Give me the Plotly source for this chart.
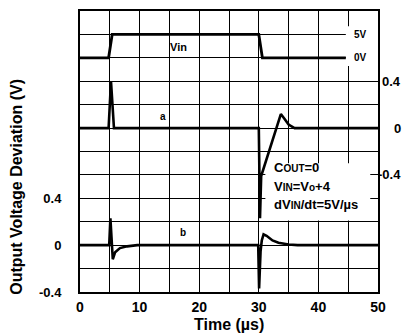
import plotly.graph_objects as go

# ---- data ----
t_vin = [0, 4.8, 5.4, 30.0, 30.6, 44.6]
v_vin = [0, 0, 5, 5, 0, 0]

t_a = [0, 4.8, 5.2, 5.7, 30.0, 30.2, 30.4, 33.7, 34.3, 35.0, 36.0, 50]
v_a = [0, 0, 0.40, 0, 0, -0.77, -0.41, 0.12, 0.08, 0.03, 0.0, 0]

t_b = [0, 4.9, 5.1, 5.3, 5.5, 5.9, 6.7, 7.9, 9.6, 29.9, 30.05, 30.3, 30.5, 30.8,
       31.3, 32.3, 33.3, 35.0, 36.5, 50]
v_b = [0, 0, 0.23, 0, -0.12, -0.06, -0.025, -0.01, 0, 0, -0.37, -0.05, 0.04, 0.093,
       0.08, 0.04, 0.02, 0.005, 0, 0]

x_ticks = [0, 10, 20, 30, 40, 50]
x_ticktext = ["0", "10", "20", "30", "40", "50"]
left_ticks = [-0.4, 0, 0.4]
left_ticktext = ["-0.4", "0", "0.4"]
right_ticks = [-0.4, 0, 0.4]
right_ticktext = ["-0.4", "0", "0.4"]
vin_levels = [5, 0]
vin_level_text = ["5V", "0V"]

FONT = "Arial, Liberation Sans, Helvetica, sans-serif"

fig = go.Figure()
fig.add_trace(go.Scatter(x=t_b, y=v_b, mode="lines", yaxis="y",
                         line=dict(color="black", width=2.6), showlegend=False))
fig.add_trace(go.Scatter(x=t_a, y=v_a, mode="lines", yaxis="y2",
                         line=dict(color="black", width=2.6), showlegend=False))
fig.add_trace(go.Scatter(x=t_vin, y=v_vin, mode="lines", yaxis="y3",
                         line=dict(color="black", width=2.8), showlegend=False))

annotations = []
# right-hand tick labels (trace a scale)
for v, txt in zip(right_ticks, right_ticktext):
    annotations.append(dict(x=1, xref="paper", y=v, yref="y2", text="<b>%s</b>" % txt,
                            xanchor="right", xshift=25, showarrow=False,
                            font=dict(family=FONT, size=13, color="black")))
# 5V / 0V labels
for v, txt in zip(vin_levels, vin_level_text):
    annotations.append(dict(x=47.1, y=v, yref="y3", text="<b>%s</b>" % txt,
                            showarrow=False, font=dict(family=FONT, size=10, color="black")))
# trace labels
annotations.append(dict(x=16.5, y=2.4, yref="y3", text="<b>Vin</b>", showarrow=False,
                        font=dict(family=FONT, size=11, color="black")))
annotations.append(dict(x=14.0, y=0.1, yref="y2", text="<b>a</b>", showarrow=False,
                        font=dict(family=FONT, size=10, color="black")))
annotations.append(dict(x=17.3, y=0.11, yref="y", text="<b>b</b>", showarrow=False,
                        font=dict(family=FONT, size=10, color="black")))
# condition text
sm = "<span style='font-size:10px'>%s</span>"
cond_lines = ["C" + sm % "OUT" + "=0",
              "V" + sm % "IN" + "=V" + sm % "o" + "+4",
              "dV" + sm % "IN" + "/dt=5V/µs"]
cond_y = [0.66, 0.50, 0.35]
for txt, yy in zip(cond_lines, cond_y):
    annotations.append(dict(x=32.2, y=yy, yref="y", text="<b>%s</b>" % txt, xanchor="left",
                            showarrow=False, font=dict(family=FONT, size=13, color="black")))
# axis titles
annotations.append(dict(x=(17 - 80) / 298.0, xref="paper", y=(292 - 186) / 283.0, yref="paper",
                        text="<b>Output Voltage Deviation (V)</b>", textangle=-90,
                        showarrow=False, font=dict(family=FONT, size=16, color="black"),
                        xanchor="center", yanchor="middle"))
annotations.append(dict(x=0.5, xref="paper", y=(292 - 325) / 283.0, yref="paper",
                        text="<b>Time (µs)</b>", showarrow=False, yanchor="middle",
                        font=dict(family=FONT, size=16, color="black")))

shapes = [
    dict(type="rect", xref="x", yref="y", x0=31.1, x1=48.7, y0=0.21, y1=0.70,
         fillcolor="white", line=dict(width=0), layer="between"),
    dict(type="rect", xref="x", yref="y", x0=44.6, x1=50, y0=1.53, y1=1.87,
         fillcolor="white", line=dict(width=0), layer="between"),
]

fig.update_layout(
    width=409, height=335,
    margin=dict(l=80, r=31, t=9, b=43),
    paper_bgcolor="white", plot_bgcolor="white",
    xaxis=dict(range=[0, 50], tickvals=x_ticks, ticktext=["<b>%s</b>" % s for s in x_ticktext],
               showgrid=True, gridcolor="black", gridwidth=1,
               minor=dict(dtick=5, tick0=0, showgrid=True, gridcolor="black", gridwidth=1),
               showline=True, mirror=True, linecolor="black", linewidth=2,
               ticks="", zeroline=False, ticklabelstandoff=1,
               tickfont=dict(family=FONT, size=14, color="black")),
    yaxis=dict(range=[-0.4, 2.0], tickvals=left_ticks,
               ticktext=["<b>%s</b>" % s for s in left_ticktext],
               showgrid=True, gridcolor="black", gridwidth=1,
               minor=dict(dtick=0.2, tick0=-0.4, showgrid=True, gridcolor="black", gridwidth=1),
               showline=True, mirror=True, linecolor="black", linewidth=2,
               ticks="", zeroline=False, ticklabelstandoff=14,
               tickfont=dict(family=FONT, size=13, color="black")),
    yaxis2=dict(range=[-1.4, 1.0], overlaying="y", side="right", showgrid=False,
                showticklabels=False, zeroline=False, showline=False),
    yaxis3=dict(range=[-50, 10], overlaying="y", side="right", showgrid=False,
                showticklabels=False, zeroline=False, showline=False),
    annotations=annotations,
    shapes=shapes,
)

fig.write_html("out.html", config={"displayModeBar": False},
               post_script="document.body.style.margin='0px';")
